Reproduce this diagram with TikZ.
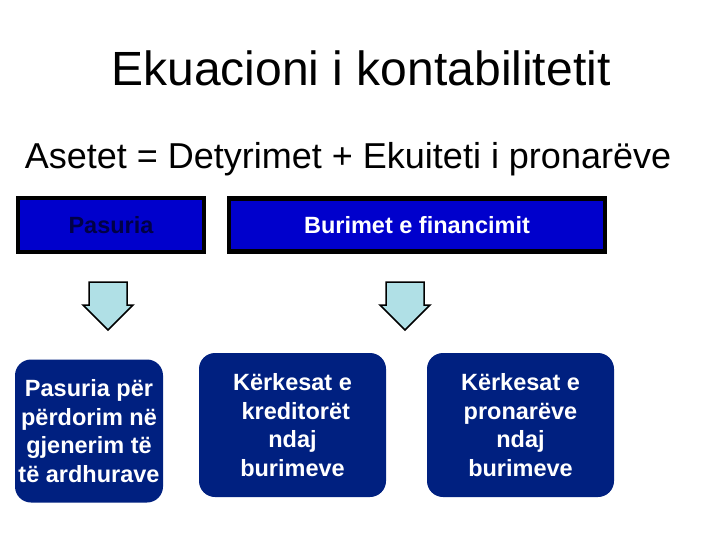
\documentclass[tikz,border=0pt]{standalone}
\usepackage{fontspec}
\setmainfont{Liberation Sans}
\definecolor{topblue}{RGB}{0,0,204}
\definecolor{navy}{RGB}{0,32,128}
\definecolor{arrowfill}{RGB}{176,224,230}
\definecolor{darktext}{RGB}{0,0,70}
\tikzset{
  topbox/.style={draw=black, line width=4.5pt, fill=topblue, inner sep=0pt, font=\bfseries\fontsize{23.5}{28}\selectfont},
  botbox/.style={fill=navy, rounded corners=16pt, inner sep=0pt, text=white, align=center, font=\bfseries\fontsize{23.5}{28.8}\selectfont},
  downarrow/.style={draw=black, line width=1.5pt, fill=arrowfill, line join=miter}
}
\begin{document}
\begin{tikzpicture}[x=1pt,y=-1pt]
\useasboundingbox (0,0) rectangle (720,540);
\node (title) at (361,68) {\fontsize{48}{54}\selectfont Ekuacioni i kontabilitetit};
\node (eq) at (348,159) {\fontsize{36}{42}\selectfont Asetet = Detyrimet + Ekuiteti i pronarëve};
\node[topbox, minimum width=186pt, minimum height=54pt, text=darktext] (pas) at (111,225) {Pasuria};
\node[topbox, minimum width=376pt, minimum height=53pt, text=white] (bur) at (417,225) {Burimet e financimit};
\draw[downarrow] (89,282) -- (127,282) -- (127,305) -- (133,305) -- (108,330) -- (83,305) -- (89,305) -- cycle;
\draw[downarrow] (386,282) -- (424,282) -- (424,305) -- (430,305) -- (405,330) -- (380,305) -- (386,305) -- cycle;
\node[botbox, minimum width=148pt, minimum height=143pt] (b1) at (89,431) {Pasuria për\\përdorim në\\gjenerim të\\të ardhurave};
\node[botbox, minimum width=187pt, minimum height=144pt] (b2) at (292.5,425) {Kërkesat e\\\ kreditorët\\ndaj\\burimeve};
\node[botbox, minimum width=187pt, minimum height=144pt] (b3) at (520.5,425) {Kërkesat e\\pronarëve\\ndaj\\burimeve};
\end{tikzpicture}
\end{document}
